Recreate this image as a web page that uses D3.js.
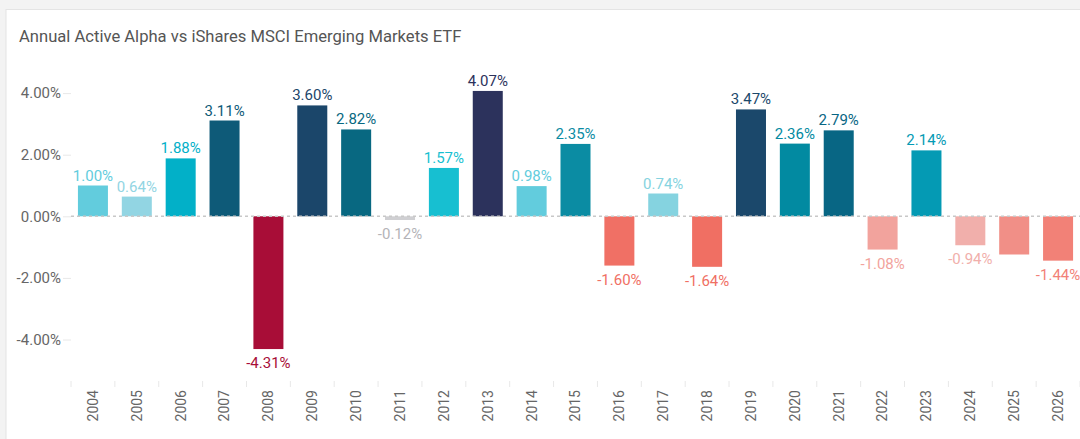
<!DOCTYPE html>
<html>
<head>
<meta charset="utf-8">
<script src="https://cdn.jsdelivr.net/npm/d3@7"></script>
<style>
  html, body { margin: 0; padding: 0; background: #f3f3f3; }
  svg { display: block; }
</style>
</head>
<body>
<svg id="chart" width="1080" height="439"></svg>
<script>
const title = "Annual Active Alpha vs iShares MSCI Emerging Markets ETF";
const years = ["2004","2005","2006","2007","2008","2009","2010","2011","2012","2013","2014","2015","2016","2017","2018","2019","2020","2021","2022","2023","2024","2025","2026"];
const values = [1.00, 0.64, 1.88, 3.11, -4.31, 3.60, 2.82, -0.12, 1.57, 4.07, 0.98, 2.35, -1.60, 0.74, -1.64, 3.47, 2.36, 2.79, -1.08, 2.14, -0.94, -1.24, -1.44];
const showLabel = [true,true,true,true,true,true,true,true,true,true,true,true,true,true,true,true,true,true,true,true,true,false,true];
const barColors = ["#62ccdd","#92d5e3","#02b0c8","#0e5a78","#a80d37","#1b466a","#086881","#cfcfd2","#17bfd1","#2c325c","#62ccdd","#0b8ca3","#f07065","#85d3e0","#f06f63","#1b486b","#028aa1","#086684","#f2a39d","#049ab4","#f1afab","#f18f87","#f28177"];
const labelColors = ["#62ccdd","#92d5e3","#02b0c8","#0e5a78","#a80d37","#1b466a","#086881","#b4b4b8","#17bfd1","#2c325c","#62ccdd","#0b8ca3","#f07065","#85d3e0","#f06f63","#1b486b","#028aa1","#086684","#f2a39d","#049ab4","#f1afab","#f18f87","#f28177"];
const yTicks = [-4, -2, 0, 2, 4];

const svg = d3.select("#chart");
const FONT = "Roboto, 'Open Sans', sans-serif";
const pct = d => d3.format(".2f")(d).replace("\u2212", "-") + "%";

// card
svg.append("rect").attr("x", 6).attr("y", 9.5).attr("width", 1100).attr("height", 460)
  .attr("fill", "#ffffff").attr("stroke", "#e4e4e4").attr("stroke-width", 1);

svg.append("text").attr("x", 19).attr("y", 42)
  .attr("font-family", FONT).attr("font-size", 16.6).attr("fill", "#555555")
  .text(title);

const x = d3.scaleBand().domain(years).range([71, 1080]).paddingInner(0.316).paddingOuter(0.158);
const y = d3.scaleLinear().domain([-5, 5]).range([370.3, 62.3]);

// y axis
const yAxis = d3.axisLeft(y).tickValues(yTicks).tickSize(8).tickPadding(2).tickFormat(pct);
const gy = svg.append("g").attr("transform", "translate(71,0)").call(yAxis);
gy.select(".domain").remove();
gy.selectAll(".tick line").attr("stroke", "#e8e8e8");
gy.selectAll(".tick text").attr("font-family", FONT).attr("font-size", 15).attr("fill", "#666666");

// x axis
const xAxis = d3.axisBottom(x).tickSize(0).tickPadding(0);
const gx = svg.append("g").attr("transform", "translate(0,381)").call(xAxis);
gx.select(".domain").remove();
gx.selectAll(".tick text")
  .attr("font-family", FONT).attr("font-size", 14).attr("fill", "#666666")
  .attr("transform", "rotate(-90)")
  .attr("text-anchor", "end")
  .attr("x", -9).attr("y", 0).attr("dy", "0.35em");
// separators between categories
const half = x.step() * x.paddingInner() / 2;
const bounds = years.map(d => x(d) - half).concat([x(years[years.length-1]) + x.bandwidth() + half]);
svg.append("g").selectAll("line").data(bounds).join("line")
  .attr("x1", d => d).attr("x2", d => d).attr("y1", 381).attr("y2", 387)
  .attr("stroke", "#e8e8e8").attr("stroke-width", 1);

// bars
const data = years.map((yr, i) => ({yr, v: values[i], c: barColors[i], lc: labelColors[i], show: showLabel[i]}));
svg.append("g").selectAll("rect").data(data).join("rect")
  .attr("x", d => x(d.yr)).attr("width", x.bandwidth())
  .attr("y", d => y(Math.max(0, d.v)))
  .attr("height", d => Math.abs(y(d.v) - y(0)))
  .attr("fill", d => d.c);

// zero line
svg.append("line").attr("x1", 71).attr("x2", 1080).attr("y1", y(0)).attr("y2", y(0))
  .attr("stroke", "#c8c8c8").attr("stroke-width", 1.5).attr("stroke-dasharray", "3,3");

// labels
svg.append("g").selectAll("text").data(data.filter(d => d.show)).join("text")
  .attr("x", d => x(d.yr) + x.bandwidth() / 2)
  .attr("y", d => d.v >= 0 ? y(d.v) - 5 : y(d.v) + 19)
  .attr("text-anchor", "middle")
  .attr("font-family", FONT).attr("font-size", 15)
  .attr("fill", d => d.lc)
  .text(d => pct(d.v));
</script>
</body>
</html>
